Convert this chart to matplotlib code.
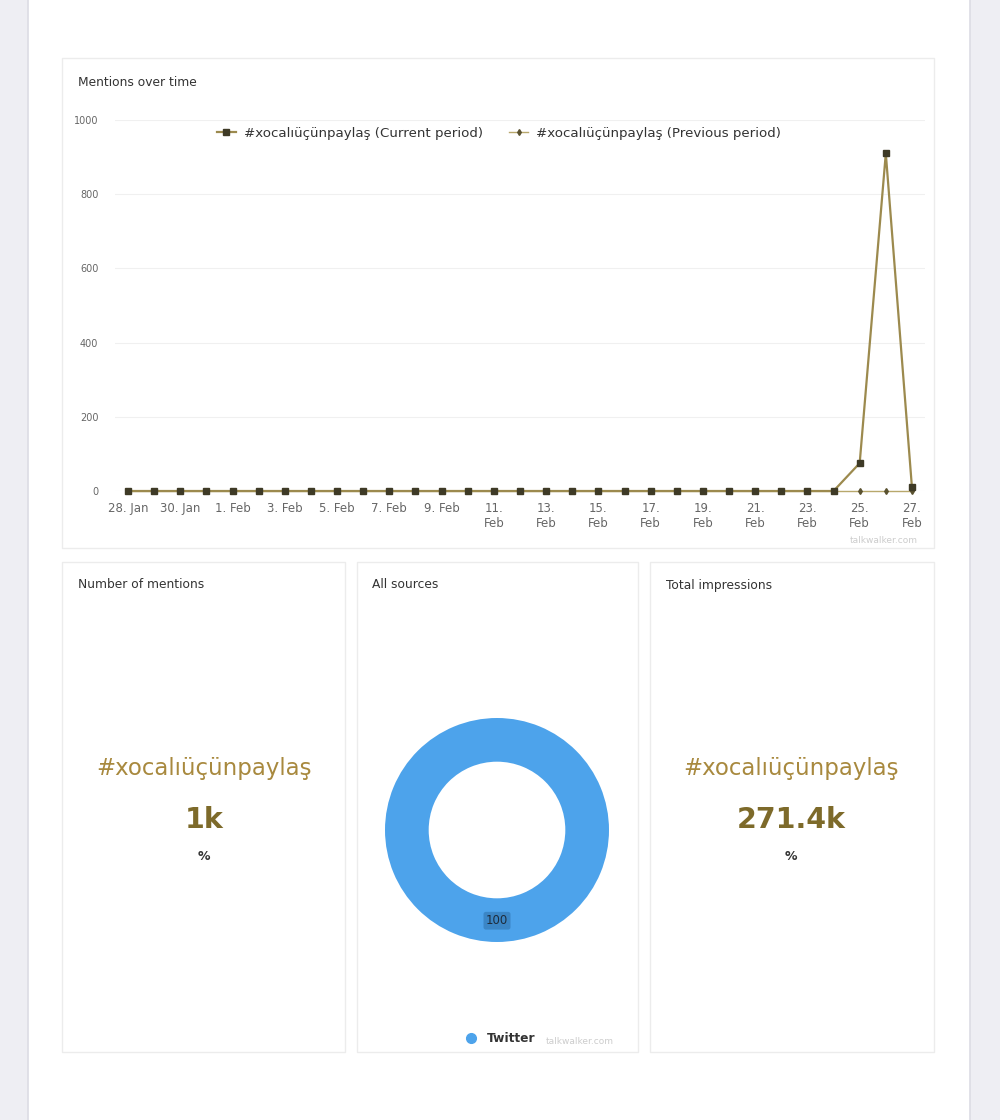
import matplotlib
matplotlib.use("Agg")
import matplotlib.pyplot as plt
from matplotlib.patches import Rectangle
from matplotlib.lines import Line2D

# ---------------- data ----------------
days = ["28. Jan", "29. Jan", "30. Jan", "31. Jan", "1. Feb", "2. Feb", "3. Feb", "4. Feb",
        "5. Feb", "6. Feb", "7. Feb", "8. Feb", "9. Feb", "10. Feb", "11. Feb", "12. Feb",
        "13. Feb", "14. Feb", "15. Feb", "16. Feb", "17. Feb", "18. Feb", "19. Feb", "20. Feb",
        "21. Feb", "22. Feb", "23. Feb", "24. Feb", "25. Feb", "26. Feb", "27. Feb"]
tick_labels = ["28. Jan", "30. Jan", "1. Feb", "3. Feb", "5. Feb", "7. Feb", "9. Feb",
               "11.\nFeb", "13.\nFeb", "15.\nFeb", "17.\nFeb", "19.\nFeb", "21.\nFeb",
               "23.\nFeb", "25.\nFeb", "27.\nFeb"]
current_period = [0, 0, 0, 0, 0, 0, 0, 0, 0, 0, 0, 0, 0, 0, 0, 0,
                  0, 0, 0, 0, 0, 0, 0, 0, 0, 0, 0, 0, 75, 910, 10]
previous_period = [0, 0, 0, 0, 0, 0, 0, 0, 0, 0, 0, 0, 0, 0, 0, 0,
                   0, 0, 0, 0, 0, 0, 0, 0, 0, 0, 0, 0, 0, 0, 0]
y_ticks = [0, 200, 400, 600, 800, 1000]
series_names = ["#xocalıüçünpaylaş (Current period)", "#xocalıüçünpaylaş (Previous period)"]
hashtag = "#xocalıüçünpaylaş"
mentions_value = "1k"
impressions_value = "271.4k"
source_names = ["Twitter"]
source_values = [100]

W, H = 1000, 1120
fig = plt.figure(figsize=(10, 11.2), dpi=100)
fig.patch.set_facecolor("white")

def fx(px):
    return px / W

def fy(py):
    return 1 - py / H

# background strips
fig.patches.append(Rectangle((0, 0), fx(28), 1, transform=fig.transFigure,
                             facecolor="#EEEEF3", edgecolor="none", zorder=-3))
fig.patches.append(Rectangle((fx(970), 0), fx(30), 1, transform=fig.transFigure,
                             facecolor="#EEEEF3", edgecolor="none", zorder=-3))
fig.lines.append(Line2D([fx(28), fx(28)], [0, 1], transform=fig.transFigure,
                        color="#DCDCE4", lw=1.2, zorder=-2))
fig.lines.append(Line2D([fx(970), fx(970)], [0, 1], transform=fig.transFigure,
                        color="#DCDCE4", lw=1.2, zorder=-2))

# panels
def panel(x0, y0, x1, y1):
    fig.patches.append(Rectangle((fx(x0), fy(y1)), fx(x1 - x0), (y1 - y0) / H,
                                 transform=fig.transFigure, facecolor="white",
                                 edgecolor="#ECECEC", lw=1.0, zorder=-1))

panel(62, 58, 934, 548)
panel(62, 562, 345, 1052)
panel(357, 562, 638, 1052)
panel(650, 562, 934, 1052)

title_kw = dict(fontsize=8.8, color="#333333", ha="left", va="center")
fig.text(fx(78), fy(82), "Mentions over time", **title_kw)
fig.text(fx(78), fy(585), "Number of mentions", **title_kw)
fig.text(fx(372), fy(585), "All sources", **title_kw)
fig.text(fx(666), fy(585), "Total impressions", **title_kw)

# ---------------- line chart ----------------
ax = fig.add_axes([fx(115), fy(491), fx(925 - 115), (491 - 120) / H])
ax.set_zorder(2)
x = list(range(len(days)))
line_col = "#9C8A4E"
ax.plot(x, previous_period, color="#B8A86C", lw=1.0, marker="d", markersize=3,
        markerfacecolor="#5A5230", markeredgecolor="#5A5230", clip_on=False, zorder=3,
        label=series_names[1])
ax.plot(x, current_period, color=line_col, lw=1.6, marker="s", markersize=4.5,
        markerfacecolor="#3E3A26", markeredgecolor="#3E3A26", clip_on=False, zorder=4,
        label=series_names[0])
ax.set_xlim(-0.5, 30.5)
ax.set_ylim(0, 1000)
ax.set_yticks(y_ticks)
ax.set_yticklabels([str(v) for v in y_ticks], fontsize=7, color="#666666")
ax.set_xticks(x[::2])
ax.set_xticklabels(tick_labels, fontsize=8.5, color="#666666", linespacing=1.2, va="top")
ax.tick_params(axis="y", length=0, pad=12)
ax.tick_params(axis="x", length=0, pad=8)
ax.grid(axis="y", color="#F0F0F0", lw=0.8)
ax.set_axisbelow(True)
for s in ax.spines.values():
    s.set_visible(False)
ax.set_facecolor("none")
h, l = ax.get_legend_handles_labels()
ax.legend(h[::-1], l[::-1], loc="center", bbox_to_anchor=(0.474, (491 - 133) / 371),
          ncol=2, frameon=False, fontsize=9.6, handlelength=1.4, handletextpad=0.6,
          columnspacing=2.0, labelcolor="#333333")
fig.text(fx(918), fy(540), "talkwalker.com", fontsize=6.5, color="#CCCCCC", ha="right",
         va="center")

# ---------------- number panels ----------------
gold = "#A8893E"
dark_gold = "#7D6A2A"
for cx, val in [(204, mentions_value), (791, impressions_value)]:
    fig.text(fx(cx), fy(768), hashtag, fontsize=16.5, color=gold, ha="center", va="center")
    fig.text(fx(cx), fy(820), val, fontsize=20.5, color=dark_gold, ha="center", va="center",
             fontweight="bold")
    fig.text(fx(cx), fy(857), "%", fontsize=9, color="#333333", ha="center", va="center",
             fontweight="bold")

# ---------------- donut ----------------
r = 112
dax = fig.add_axes([fx(497 - r), fy(830 + r), fx(2 * r), 2 * r / H])
dax.set_zorder(2)
blue = "#4DA3EB"
wedges, texts, autotexts = dax.pie(source_values, colors=[blue], startangle=90,
                                   radius=1.0, counterclock=False,
                                   wedgeprops=dict(width=0.39, edgecolor="white", lw=0),
                                   autopct=lambda p: f"{p:.0f}", pctdistance=0.81)
for t in autotexts:
    t.set_fontsize(8.5)
    t.set_color("#1E2C3C")
    t.set_bbox(dict(boxstyle="round,pad=0.2", facecolor="#3B86C6", edgecolor="none"))
dax.set_aspect("equal")
dax.set_xlim(-1, 1)
dax.set_ylim(-1, 1)
dax.axis("off")

fig.lines.append(Line2D([fx(471)], [fy(1038)], transform=fig.transFigure, marker="o",
                        markersize=7, color=blue, lw=0))
fig.text(fx(487), fy(1038), source_names[0], fontsize=8.8, color="#333333",
         fontweight="bold", ha="left", va="center")
fig.text(fx(546), fy(1041), "talkwalker.com", fontsize=6.5, color="#CCCCCC", ha="left",
         va="center")

fig.savefig("out.png", dpi=100, facecolor="white")
